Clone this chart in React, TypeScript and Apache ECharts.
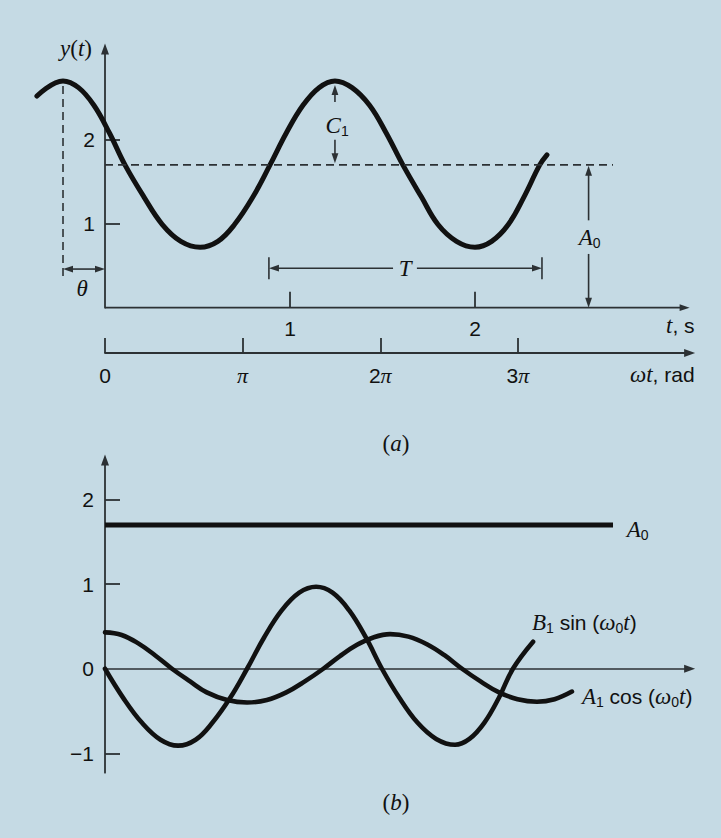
import { useEffect, useRef } from "react";
import * as echarts from "echarts";

// ---- panel (a): the sinusoid y(t) = A0 + C1 cos(w0 t + theta) ----
const WAVE_T = [
  -0.368, -0.227, -0.143, -0.06, 0.024, 0.108, 0.21, 0.31, 0.41, 0.514, 0.61, 0.7, 0.8, 0.892, 0.98, 1.07, 1.157,
  1.243, 1.335, 1.43, 1.52, 1.61, 1.71, 1.8, 1.9, 2.0, 2.09, 2.18, 2.265, 2.35, 2.389,
];
const WAVE_Y = [
  2.52, 2.7, 2.62, 2.41, 2.08, 1.7, 1.32, 0.99, 0.79, 0.72, 0.79, 0.99, 1.32, 1.7, 2.08, 2.41, 2.62,
  2.7, 2.62, 2.41, 2.08, 1.7, 1.32, 0.99, 0.79, 0.72, 0.79, 0.99, 1.32, 1.7, 1.82,
];

const MEAN_LEVEL = 1.7; // A0
const PEAK_T = -0.227; // first crest, sets the phase shift theta
const PERIOD = 1.488; // T, seconds
const OMEGA = (2 * Math.PI) / PERIOD;

const T_MIN = -0.4;
const T_MAX = 3.16;
const T_TICKS = [1, 2];
const RAD_TICKS = [0, Math.PI, 2 * Math.PI, 3 * Math.PI];
const Y_A_MAX = 3.08;
const Y_A_TICKS = [1, 2];

// straight pieces of panel (a): [t1, v1, t2, v2, headAtStart, headAtEnd, lineWidth]
const DIM_A: number[][] = [
  [0, 0, T_MAX, 0, 0, 1, 1.8], // time axis
  [PEAK_T, 0.46, 0, 0.46, 1, 1, 1.6], // theta
  [1.243, 2.45, 1.243, 2.65, 0, 1, 1.6], // C1 upper
  [1.243, 2.0, 1.243, 1.72, 0, 1, 1.6], // C1 lower
  [1.557, 0.47, 0.886, 0.47, 0, 1, 1.6], // T left half
  [1.686, 0.47, 2.362, 0.47, 0, 1, 1.6], // T right half
  [0.886, 0.34, 0.886, 0.6, 0, 0, 1.6], // T stop bar
  [2.362, 0.34, 2.362, 0.6, 0, 0, 1.6], // T stop bar
  [2.614, 1.04, 2.614, 1.69, 0, 1, 1.6], // A0 upper
  [2.614, 0.64, 2.614, 0, 0, 1, 1.6], // A0 lower
];
const DASH_MEAN: number[][] = [[0, MEAN_LEVEL], [2.746, MEAN_LEVEL]];
const DASH_PEAK: number[][] = [[PEAK_T, 2.64], [PEAK_T, 0.35]];

const LABELS_A = [
  { t: -0.124, v: 0.23, text: "{i|θ}", align: "center" },
  { t: 1.255, v: 2.17, text: "{i|C}{s|1}", align: "center" },
  { t: 1.622, v: 0.47, text: "{i|T}", align: "center" },
  { t: 2.62, v: 0.84, text: "{i|A}{s|0}", align: "center" },
];

// ---- panel (b): the components ----
const SIN_T = [
  0, 0.1, 0.2, 0.3, 0.395, 0.49, 0.58, 0.675, 0.768, 0.86, 0.955, 1.05, 1.141, 1.23, 1.32, 1.41, 1.497, 1.59, 1.69,
  1.79, 1.892, 1.97, 2.05, 2.13, 2.205, 2.314,
];
const SIN_Y = [
  0, -0.35, -0.64, -0.84, -0.91, -0.84, -0.64, -0.35, 0, 0.37, 0.69, 0.9, 0.97, 0.9, 0.69, 0.37, 0, -0.34, -0.64,
  -0.83, -0.9, -0.83, -0.64, -0.34, 0, 0.32,
];
const COS_T = [
  0, 0.09, 0.18, 0.27, 0.362, 0.46, 0.55, 0.66, 0.768, 0.875, 0.98, 1.08, 1.18, 1.27, 1.36, 1.45, 1.541, 1.64, 1.74,
  1.835, 1.93, 2.03, 2.13, 2.23, 2.335, 2.43, 2.524,
];
const COS_Y = [
  0.43, 0.4, 0.3, 0.16, 0, -0.15, -0.28, -0.37, -0.4, -0.37, -0.28, -0.15, 0, 0.15, 0.28, 0.37, 0.41, 0.38, 0.29,
  0.16, 0, -0.15, -0.28, -0.36, -0.39, -0.36, -0.27,
];
const CONST_LINE: number[][] = [[0, MEAN_LEVEL], [2.746, MEAN_LEVEL]];

const Y_B_MIN = -1.23;
const Y_B_MAX = 2.47;
const Y_B_TICKS = [-1, 1, 2];
const Y_B_LABELS = [-1, 0, 1, 2];

const LABELS_B = [
  { t: 2.82, v: 1.645, text: "{i|A}{s|0}", align: "left" },
  { t: 2.308, v: 0.544, text: "{i|B}{s|1}{n| sin (}{i|ω}{s|0}{i|t}{n|)}", align: "left" },
  { t: 2.578, v: -0.33, text: "{i|A}{s|1}{n| cos (}{i|ω}{s|0}{i|t}{n|)}", align: "left" },
];

// ---- styling ----
const BG = "#c5dae4";
const INK = "#111111";
const AXIS = "#2c3134";
const SANS = "Liberation Sans";
const SERIF = "Liberation Serif";
const PX_PER_S = 185;

const RICH: Record<string, any> = {
  i: { fontFamily: SERIF, fontStyle: "italic", fontSize: 23, color: INK, fill: INK, lineHeight: 25 },
  r: { fontFamily: SERIF, fontSize: 23, color: INK, fill: INK, lineHeight: 25 },
  n: { fontFamily: SANS, fontSize: 21, color: INK, fill: INK, lineHeight: 25 },
  s: { fontFamily: SANS, fontSize: 14, color: INK, fill: INK, verticalAlign: "bottom", lineHeight: 10 },
  p: { fontFamily: SERIF, fontStyle: "italic", fontSize: 22, color: INK, fill: INK, lineHeight: 25 },
};

const axisLineStyle = { color: AXIS, width: 1.8 };
const arrowEnd = { symbol: ["none", "triangle"], symbolSize: [8, 11] };
const tickLabel = { fontFamily: SANS, fontSize: 21, color: INK };

function renderDimension(_params: any, api: any) {
  const a = api.coord([api.value(0), api.value(1)]);
  const b = api.coord([api.value(2), api.value(3)]);
  const headStart = api.value(4) === 1;
  const headEnd = api.value(5) === 1;
  const width = api.value(6);
  const dx = b[0] - a[0];
  const dy = b[1] - a[1];
  const len = Math.hypot(dx, dy) || 1;
  const ux = dx / len;
  const uy = dy / len;
  const L = 10;
  const W = 3.4;
  const p1 = headStart ? [a[0] + ux * (L - 1), a[1] + uy * (L - 1)] : a;
  const p2 = headEnd ? [b[0] - ux * (L - 1), b[1] - uy * (L - 1)] : b;
  const children: any[] = [
    {
      type: "line",
      shape: { x1: p1[0], y1: p1[1], x2: p2[0], y2: p2[1] },
      style: { stroke: AXIS, lineWidth: width },
    },
  ];
  const head = (tip: number[], sx: number, sy: number) => {
    const bx = tip[0] - sx * L;
    const by = tip[1] - sy * L;
    return {
      type: "polygon",
      shape: { points: [[tip[0], tip[1]], [bx - sy * W, by + sx * W], [bx + sy * W, by - sx * W]] },
      style: { fill: AXIS },
    };
  };
  if (headStart) children.push(head(a, -ux, -uy));
  if (headEnd) children.push(head(b, ux, uy));
  return { type: "group", children };
}

function labelRenderer(labels: { text: string; align: string }[]) {
  return (params: any, api: any) => {
    const p = api.coord([api.value(0), api.value(1)]);
    const spec = labels[params.dataIndex];
    return {
      type: "text",
      x: p[0],
      y: p[1],
      style: {
        text: spec.text,
        rich: RICH,
        fill: INK,
        align: spec.align,
        textAlign: spec.align,
        verticalAlign: "middle",
        textVerticalAlign: "middle",
      },
    };
  };
}

function radLabel(value: number) {
  const k = Math.round(value / Math.PI);
  if (k === 0) return "{n|0}";
  if (k === 1) return "{p|π}";
  return `{n|${k}}{p|π}`;
}

function buildOption() {
  const zip = (xs: number[], ys: number[]) => xs.map((x, i) => [x, ys[i]]);
  const originX = 105; // where t = 0 sits
  const leadIn = -T_MIN * PX_PER_S; // room left of t = 0 for the curve's lead-in
  const spanA = (T_MAX - T_MIN) * PX_PER_S;
  const spanB = T_MAX * PX_PER_S;
  return {
    animation: false,
    backgroundColor: BG,
    textStyle: { fontFamily: SANS },
    grid: [
      { left: originX - leadIn, top: 49, width: spanA, height: 258.7 },
      { left: originX, top: 460, width: spanB, height: 312.7 },
      { left: originX, top: 343, width: spanB, height: 10 },
    ],
    xAxis: [
      {
        gridIndex: 0,
        type: "value",
        min: T_MIN,
        max: T_MAX,
        axisLine: { show: false, onZero: true },
        axisTick: { show: true, inside: true, length: 16, customValues: T_TICKS, lineStyle: axisLineStyle },
        axisLabel: { customValues: T_TICKS, margin: 10, ...tickLabel },
        splitLine: { show: false },
        name: "{i|t}{n|, s}",
        nameLocation: "end",
        nameGap: 5,
        nameTextStyle: { align: "right", verticalAlign: "top", padding: [5, 0, 0, 0], rich: RICH },
      },
      {
        gridIndex: 1,
        type: "value",
        min: 0,
        max: T_MAX,
        axisLine: { show: true, onZero: true, ...arrowEnd, lineStyle: { color: AXIS, width: 1.6 } },
        axisTick: { show: false },
        axisLabel: { show: false },
        splitLine: { show: false },
      },
      {
        gridIndex: 2,
        type: "value",
        position: "bottom",
        min: 0,
        max: T_MAX * OMEGA,
        axisLine: { show: true, onZero: false, ...arrowEnd, lineStyle: axisLineStyle },
        axisTick: { show: true, inside: true, length: 15, customValues: RAD_TICKS, lineStyle: axisLineStyle },
        axisLabel: { customValues: RAD_TICKS, margin: 10, formatter: radLabel, rich: RICH, ...tickLabel },
        splitLine: { show: false },
        name: "{i|ωt}{n|, rad}",
        nameLocation: "end",
        nameGap: 5,
        nameTextStyle: { align: "right", verticalAlign: "top", padding: [9, 0, 0, 0], rich: RICH },
      },
    ],
    yAxis: [
      {
        gridIndex: 0,
        type: "value",
        min: 0,
        max: Y_A_MAX,
        offset: -leadIn,
        axisLine: { show: true, onZero: false, ...arrowEnd, lineStyle: axisLineStyle },
        axisTick: { show: true, inside: true, length: 15, customValues: Y_A_TICKS, lineStyle: axisLineStyle },
        axisLabel: { customValues: Y_A_TICKS, margin: 10, ...tickLabel },
        splitLine: { show: false },
        name: "{i|y}{r|(}{i|t}{r|)}",
        nameLocation: "end",
        nameGap: 1,
        nameTextStyle: { align: "right", verticalAlign: "middle", padding: [0, 13, 0, 0], rich: RICH },
      },
      {
        gridIndex: 1,
        type: "value",
        min: Y_B_MIN,
        max: Y_B_MAX,
        axisLine: { show: true, onZero: true, ...arrowEnd, lineStyle: axisLineStyle },
        axisTick: { show: true, inside: true, length: 15, customValues: Y_B_TICKS, lineStyle: axisLineStyle },
        axisLabel: {
          customValues: Y_B_LABELS,
          margin: 11,
          ...tickLabel,
          formatter: (v: number) => (v < 0 ? "\u2212" + Math.abs(v) : String(v)),
        },
        splitLine: { show: false },
      },
      { gridIndex: 2, type: "value", show: false, min: 0, max: 1 },
    ],
    series: [
      {
        name: "y(t)",
        type: "line",
        xAxisIndex: 0,
        yAxisIndex: 0,
        data: zip(WAVE_T, WAVE_Y),
        smooth: 0.4,
        symbol: "none",
        lineStyle: { color: INK, width: 5, cap: "round" },
      },
      {
        name: "mean level",
        type: "line",
        xAxisIndex: 0,
        yAxisIndex: 0,
        data: DASH_MEAN,
        symbol: "none",
        lineStyle: { color: AXIS, width: 1.6, type: [8, 5] },
      },
      {
        name: "crest marker",
        type: "line",
        xAxisIndex: 0,
        yAxisIndex: 0,
        data: DASH_PEAK,
        symbol: "none",
        lineStyle: { color: AXIS, width: 1.6, type: [8, 5] },
      },
      {
        name: "dimensions a",
        type: "custom",
        xAxisIndex: 0,
        yAxisIndex: 0,
        clip: false,
        silent: true,
        data: DIM_A,
        encode: { x: [0, 2], y: [1, 3] },
        renderItem: renderDimension,
      },
      {
        name: "labels a",
        type: "custom",
        xAxisIndex: 0,
        yAxisIndex: 0,
        clip: false,
        silent: true,
        data: LABELS_A.map((l) => [l.t, l.v]),
        renderItem: labelRenderer(LABELS_A),
      },
      {
        name: "A0",
        type: "line",
        xAxisIndex: 1,
        yAxisIndex: 1,
        data: CONST_LINE,
        symbol: "none",
        lineStyle: { color: INK, width: 5 },
      },
      {
        name: "B1 sin",
        type: "line",
        xAxisIndex: 1,
        yAxisIndex: 1,
        data: zip(SIN_T, SIN_Y),
        smooth: 0.4,
        symbol: "none",
        lineStyle: { color: INK, width: 4.6, cap: "round" },
      },
      {
        name: "A1 cos",
        type: "line",
        xAxisIndex: 1,
        yAxisIndex: 1,
        data: zip(COS_T, COS_Y),
        smooth: 0.4,
        symbol: "none",
        lineStyle: { color: INK, width: 4.6, cap: "round" },
      },
      {
        name: "labels b",
        type: "custom",
        xAxisIndex: 1,
        yAxisIndex: 1,
        clip: false,
        silent: true,
        data: LABELS_B.map((l) => [l.t, l.v]),
        renderItem: labelRenderer(LABELS_B),
      },
    ],
    graphic: [
      {
        type: "text",
        x: 396,
        y: 443,
        style: { text: "{r|(}{i|a}{r|)}", rich: RICH, align: "center", verticalAlign: "middle", textAlign: "center", textVerticalAlign: "middle" },
      },
      {
        type: "text",
        x: 396,
        y: 802,
        style: { text: "{r|(}{i|b}{r|)}", rich: RICH, align: "center", verticalAlign: "middle", textAlign: "center", textVerticalAlign: "middle" },
      },
    ],
  };
}

export default function App() {
  const ref = useRef<HTMLDivElement>(null);
  useEffect(() => {
    if (!ref.current) return;
    const chart = echarts.init(ref.current, undefined, { renderer: "svg" });
    chart.setOption(buildOption() as any);
    return () => chart.dispose();
  }, []);
  return (
    <div
      ref={ref}
      style={{ position: "absolute", left: 0, top: 0, width: 721, height: 838, background: BG }}
    />
  );
}
